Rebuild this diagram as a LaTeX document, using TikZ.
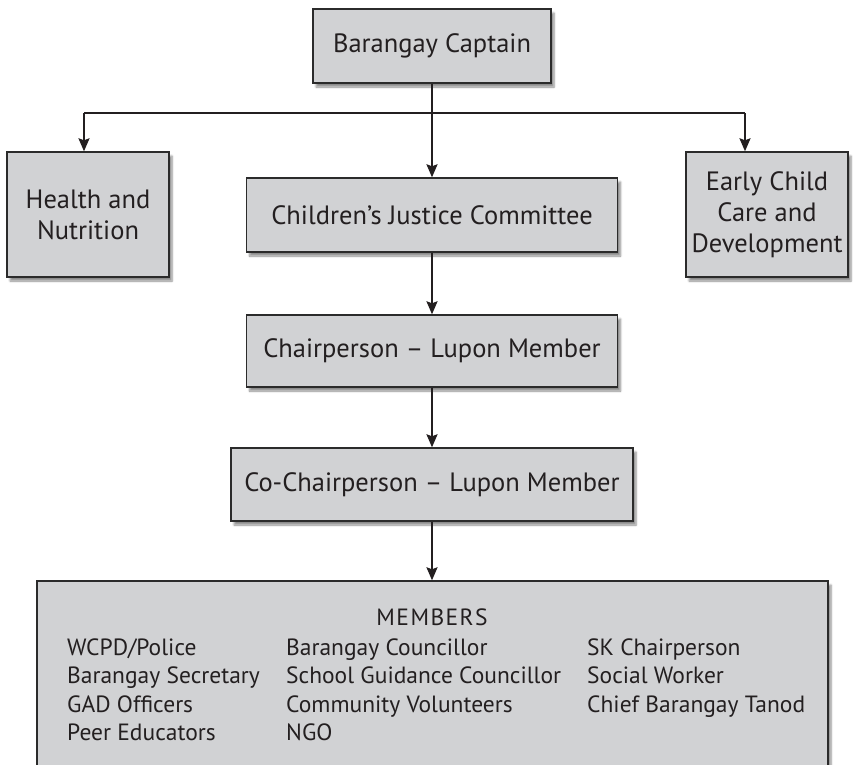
\documentclass[tikz,border=0pt]{standalone}
\usepackage{fontspec}
\setmainfont{PT Sans}
\usetikzlibrary{arrows.meta,shadows.blur}
\definecolor{boxfill}{HTML}{D1D2D4}
\definecolor{boxline}{HTML}{2B2B2B}
\definecolor{inktext}{HTML}{231F20}
\tikzset{
  orgbox/.style={draw=boxline, line width=1.4pt, fill=boxfill,
    blur shadow={shadow xshift=3pt, shadow yshift=-4pt, shadow blur steps=6, shadow opacity=45},
    inner sep=0pt, align=center, text=inktext,
    font=\fontsize{26.5}{31}\selectfont},
  link/.style={line width=2pt, draw=inktext},
  tip/.style={-{Stealth[length=13pt,width=11pt,inset=2pt]}},
  memtext/.style={inner sep=0pt, text=inktext, font=\fontsize{23.5}{28}\selectfont},
}
\begin{document}
\begin{tikzpicture}[x=1pt,y=-1pt]
  \useasboundingbox (0,0) rectangle (853,764);
  \clip (0,0) rectangle (853,764);

  % boxes of the chart
  \node[orgbox, minimum width=238pt, minimum height=74pt] (captain) at (432,46) {Barangay Captain};
  \node[orgbox, minimum width=162pt, minimum height=125pt] (health) at (88,214.5) {Health and\\Nutrition};
  \node[orgbox, minimum width=162pt, minimum height=125pt] (early) at (767,214.5) {Early Child\\Care and\\Development};
  \node[orgbox, minimum width=371pt, minimum height=74pt] (cjc) at (432,215) {Children’s Justice Committee};
  \node[orgbox, minimum width=371pt, minimum height=72pt] (chair) at (432,351) {Chairperson – Lupon Member};
  \node[orgbox, minimum width=402pt, minimum height=73pt] (cochair) at (432,484.5) {Co-Chairperson – Lupon Member};
  \node[orgbox, minimum width=791pt, minimum height=209pt] (members) at (432.5,685.5) {};

  % members listing
  \node[memtext, anchor=base] (memhead) at (432,625) {\addfontfeatures{LetterSpace=6}MEMBERS};
  \node[memtext, anchor=base west] (m11) at (67,655) {WCPD/Police};
  \node[memtext, anchor=base west] (m21) at (67,683.5) {Barangay Secretary};
  \node[memtext, anchor=base west] (m31) at (67,712) {GAD Officers};
  \node[memtext, anchor=base west] (m41) at (67,740.5) {Peer Educators};
  \node[memtext, anchor=base west] (m12) at (286,655) {Barangay Councillor};
  \node[memtext, anchor=base west] (m22) at (286,683.5) {School Guidance Councillor};
  \node[memtext, anchor=base west] (m32) at (286,712) {Community Volunteers};
  \node[memtext, anchor=base west] (m42) at (286,740.5) {NGO};
  \node[memtext, anchor=base west] (m13) at (587,655) {SK Chairperson};
  \node[memtext, anchor=base west] (m23) at (587,683.5) {Social Worker};
  \node[memtext, anchor=base west] (m33) at (587,712) {Chief Barangay Tanod};

  % branch line below the captain
  \coordinate (brL) at (84,113);
  \coordinate (brR) at (745,113);
  \draw[link] (brL) -- (brR);
  \draw[link, tip] (brL) -- (brL |- health.north);
  \draw[link, tip] (brR) -- (brR |- early.north);

  % main chain
  \draw[link, tip] (captain.south) -- (captain.south |- cjc.north);
  \draw[link, tip] (cjc.south) -- (cjc.south |- chair.north);
  \draw[link, tip] (chair.south) -- (chair.south |- cochair.north);
  \draw[link, tip] (cochair.south) -- (cochair.south |- members.north);
\end{tikzpicture}
\end{document}
